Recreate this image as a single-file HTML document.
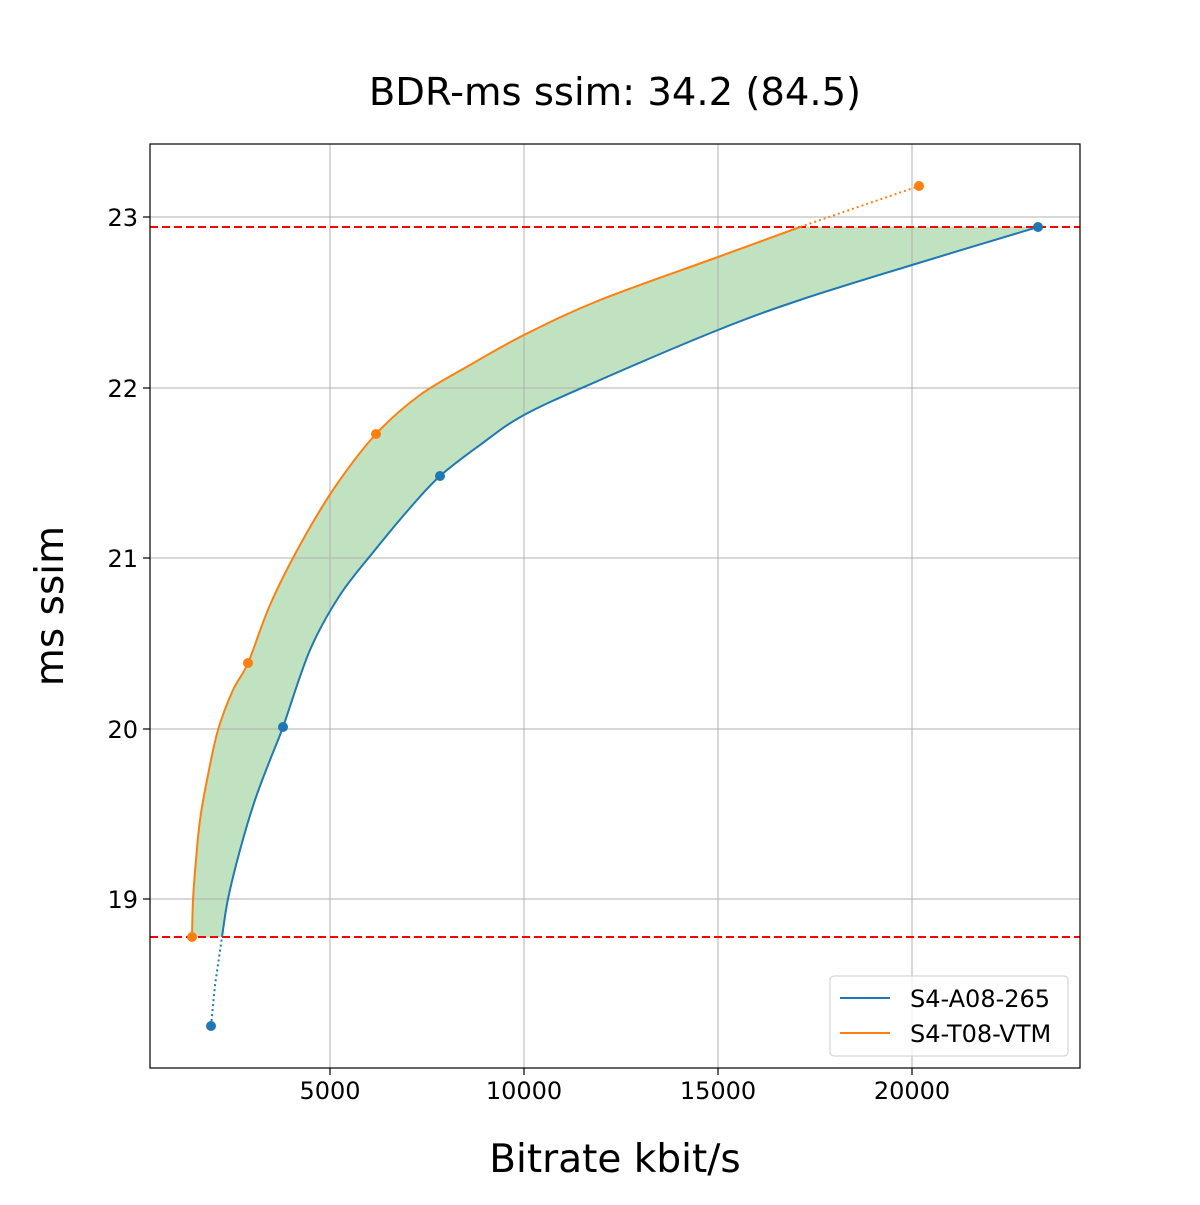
<!DOCTYPE html>
<html><head><style>body{margin:0;background:#fff}</style></head><body>
<svg id="s" width="1200" height="1200" xmlns="http://www.w3.org/2000/svg" font-family="'DejaVu Sans','Liberation Sans',sans-serif">
<rect width="1200" height="1200" fill="#fff"/>
<text x="615" y="105" font-size="38.5" text-anchor="middle">BDR-ms ssim: 34.2 (84.5)</text>
<path id="fill" fill="#c0e2c0" d=""/>
<g stroke="#b0b0b0" stroke-width="1">
<line x1="330" y1="144" x2="330" y2="1068"/><line x1="524" y1="144" x2="524" y2="1068"/>
<line x1="718" y1="144" x2="718" y2="1068"/><line x1="912" y1="144" x2="912" y2="1068"/>
<line x1="150" y1="217" x2="1080" y2="217"/><line x1="150" y1="388" x2="1080" y2="388"/>
<line x1="150" y1="558" x2="1080" y2="558"/><line x1="150" y1="729" x2="1080" y2="729"/>
<line x1="150" y1="899" x2="1080" y2="899"/>
</g>
<line x1="150" y1="227" x2="1080" y2="227" stroke="#ff0000" stroke-width="2" stroke-dasharray="8,4"/>
<line x1="150" y1="937" x2="1080" y2="937" stroke="#ff0000" stroke-width="2" stroke-dasharray="8,4"/>
<path id="or" fill="none" stroke="#ff7f0e" stroke-width="2" d=""/>
<polyline fill="none" stroke="#ff7f0e" stroke-width="2" stroke-dasharray="2,3" points="800,227 919,186"/>
<path id="bl" fill="none" stroke="#1f77b4" stroke-width="2" d=""/>
<polyline fill="none" stroke="#1f77b4" stroke-width="2" stroke-dasharray="2,3" points="211,1026 215,985 222,937"/>
<g fill="#1f77b4"><circle cx="211" cy="1026" r="5"/><circle cx="283" cy="727" r="5"/><circle cx="440" cy="476" r="5"/><circle cx="1038" cy="227" r="5"/></g>
<g fill="#ff7f0e"><circle cx="192" cy="937" r="5"/><circle cx="248" cy="663" r="5"/><circle cx="376" cy="434" r="5"/><circle cx="919" cy="186" r="5"/></g>
<rect x="150" y="144" width="930" height="924" fill="none" stroke="#000" stroke-width="1.2"/>
<g stroke="#000" stroke-width="1.2">
<line x1="330" y1="1068" x2="330" y2="1075"/><line x1="524" y1="1068" x2="524" y2="1075"/>
<line x1="718" y1="1068" x2="718" y2="1075"/><line x1="912" y1="1068" x2="912" y2="1075"/>
<line x1="143" y1="217" x2="150" y2="217"/><line x1="143" y1="388" x2="150" y2="388"/>
<line x1="143" y1="558" x2="150" y2="558"/><line x1="143" y1="729" x2="150" y2="729"/>
<line x1="143" y1="899" x2="150" y2="899"/>
</g>
<g font-size="24" text-anchor="middle">
<text x="330" y="1099">5000</text><text x="524" y="1099">10000</text>
<text x="718" y="1099">15000</text><text x="912" y="1099">20000</text>
</g>
<g font-size="24" text-anchor="end">
<text x="138" y="226">23</text><text x="138" y="397">22</text><text x="138" y="567">21</text>
<text x="138" y="738">20</text><text x="138" y="908">19</text>
</g>
<text x="615" y="1172" font-size="39" text-anchor="middle">Bitrate kbit/s</text>
<text transform="translate(63,606) rotate(-90)" font-size="39" text-anchor="middle">ms ssim</text>
<rect x="830" y="976" width="238" height="80" rx="4" fill="#fff" fill-opacity="0.8" stroke="#ccc"/>
<line x1="840" y1="998" x2="890" y2="998" stroke="#1f77b4" stroke-width="2"/>
<line x1="840" y1="1033" x2="890" y2="1033" stroke="#ff7f0e" stroke-width="2"/>
<text x="910" y="1007" font-size="24">S4-A08-265</text>
<text x="910" y="1042" font-size="24">S4-T08-VTM</text>
</svg>
<script>
function cr(p){let d="";for(let i=0;i<p.length-1;i++){const p0=p[i-1]||p[i],p1=p[i],p2=p[i+1],p3=p[i+2]||p2;
const c1=[p1[0]+(p2[0]-p0[0])/6,p1[1]+(p2[1]-p0[1])/6],c2=[p2[0]-(p3[0]-p1[0])/6,p2[1]-(p3[1]-p1[1])/6];
d+=" C"+c1+" "+c2+" "+p2;}return d;}
const O=[[192,937],[193,900],[196,860],[200,820],[207,780],[218,730],[233,690],[248,663],[270,605],[300,545],[335,487],[376,434],[420,395],[470,365],[524,335],[600,300],[718,257],[800,227]];
const B=[[222,937],[228,899],[240,850],[255,800],[270,760],[283,727],[310,650],[340,595],[375,550],[410,508],[440,476],[480,445],[524,415],[600,380],[718,330],[800,300],[912,265],[1038,227]];
document.getElementById("or").setAttribute("d","M"+O[0]+cr(O));
document.getElementById("bl").setAttribute("d","M"+B[0]+cr(B));
const Br=B.slice().reverse();
document.getElementById("fill").setAttribute("d","M"+O[0]+cr(O)+" L"+Br[0]+cr(Br)+" Z");
</script>
</body></html>
